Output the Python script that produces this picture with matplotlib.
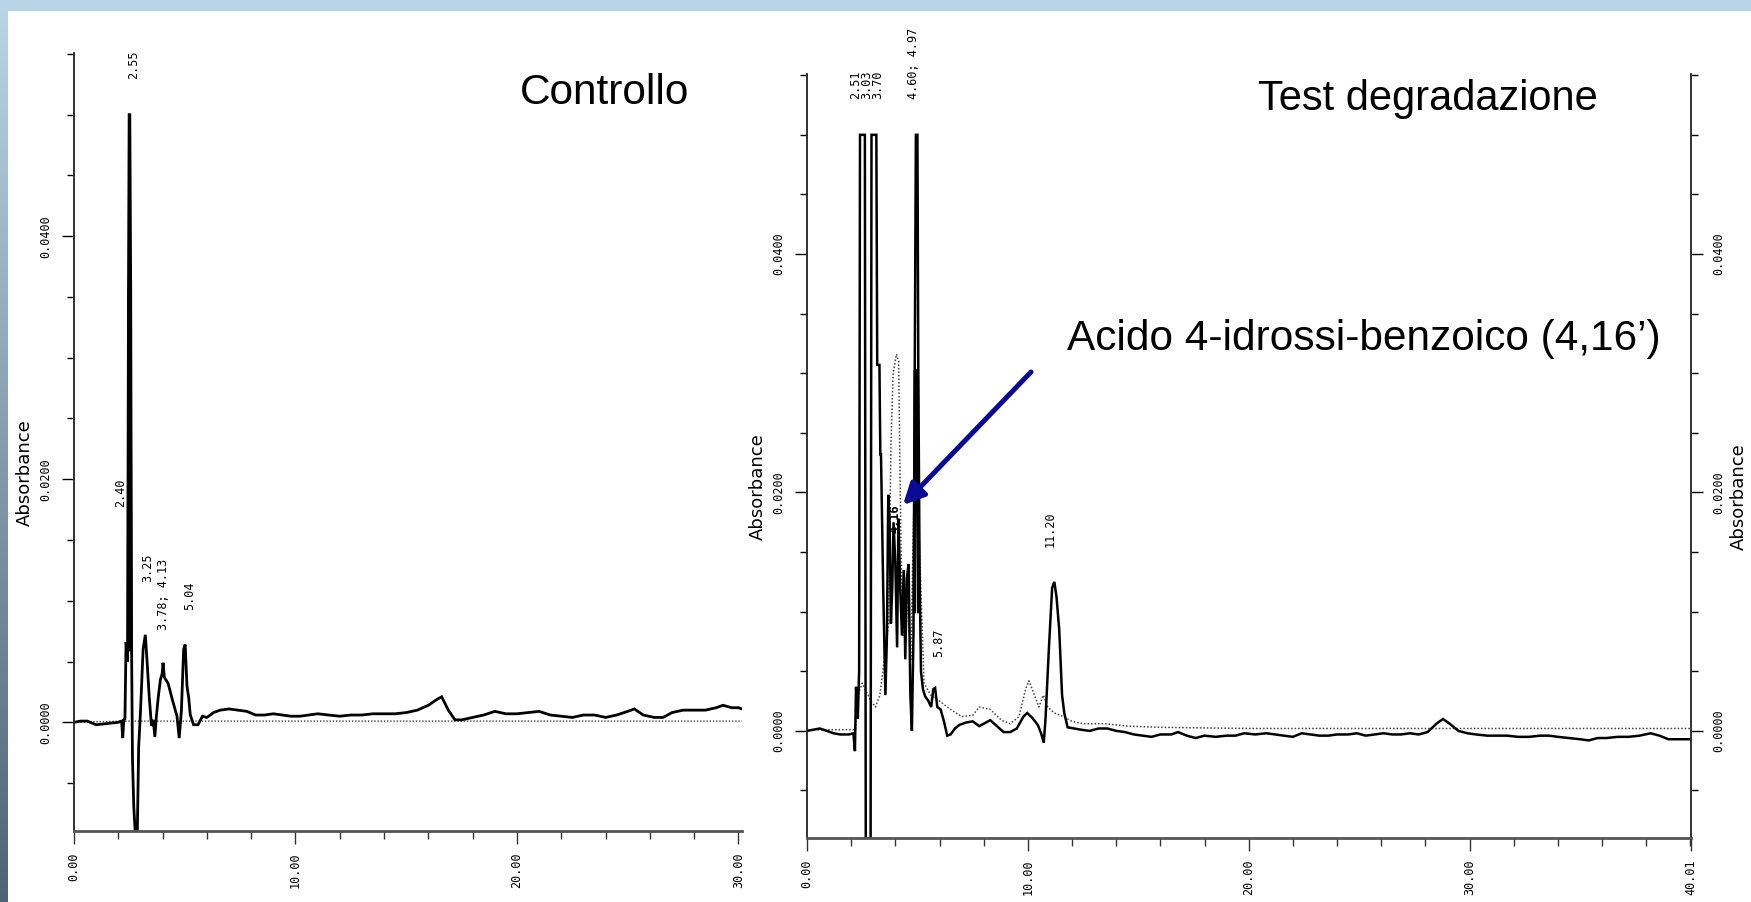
import numpy as np
import matplotlib
matplotlib.use('Agg')
import matplotlib.pyplot as plt
from matplotlib.patches import Rectangle, FancyArrowPatch

# ---------------- data ----------------
# Left panel: "Controllo" – solid trace (time min, absorbance)
ctrl_t = [0.0, 0.3, 0.6, 1.0, 1.5, 2.0, 2.15, 2.2, 2.25, 2.30, 2.35, 2.42, 2.46, 2.49, 2.52, 2.56,
          2.60, 2.64, 2.70, 2.76, 2.86, 2.92, 3.00, 3.12, 3.22, 3.30, 3.40, 3.50, 3.58, 3.65, 3.72,
          3.80, 3.90, 3.98, 4.02, 4.08, 4.25, 4.45, 4.65, 4.75, 4.85, 4.95, 5.02, 5.10, 5.18, 5.25,
          5.40, 5.60, 5.80, 6.0, 6.3, 6.6, 7.0, 7.4, 7.8, 8.2, 8.6, 9.0, 9.4, 9.8, 10.2, 10.6, 11.0,
          11.5, 12.0, 12.5, 13.0, 13.5, 14.0, 14.5, 15.0, 15.5, 16.0, 16.4, 16.6, 16.9, 17.2, 17.5,
          18.0, 18.5, 19.0, 19.5, 20.0, 20.5, 21.0, 21.5, 22.0, 22.5, 23.0, 23.5, 24.0, 24.5, 25.0,
          25.3, 25.7, 26.2, 26.6, 27.0, 27.5, 28.0, 28.5, 29.0, 29.3, 29.7, 30.0, 30.16]
ctrl_v = [0.0000, 0.0001, 0.0001, -0.0002, -0.0001, 0.0000, 0.0001, -0.0013, 0.0002, 0.0003, 0.0066,
          0.0050, 0.0357, 0.0500, 0.0500, 0.0357, 0.0060, -0.0030, -0.0070, -0.0089, -0.0089, -0.0020,
          0.0008, 0.0060, 0.0072, 0.0050, 0.0020, -0.0003, 0.0002, -0.0012, 0.0005, 0.0020, 0.0035,
          0.0040, 0.0049, 0.0037, 0.0032, 0.0018, 0.0005, -0.0013, 0.0010, 0.0060, 0.0064, 0.0030,
          0.0020, 0.0006, -0.0002, -0.0002, 0.0005, 0.0004, 0.0008, 0.0010, 0.0011, 0.0010, 0.0009,
          0.0006, 0.0006, 0.0007, 0.0006, 0.0005, 0.0005, 0.0006, 0.0007, 0.0006, 0.0005, 0.0006,
          0.0006, 0.0007, 0.0007, 0.0007, 0.0008, 0.0010, 0.0014, 0.0019, 0.0021, 0.0010, 0.0002,
          0.0002, 0.0004, 0.0006, 0.0009, 0.0007, 0.0007, 0.0008, 0.0009, 0.0006, 0.0005, 0.0004,
          0.0006, 0.0006, 0.0004, 0.0006, 0.0009, 0.0011, 0.0006, 0.0004, 0.0004, 0.0008, 0.0010,
          0.0010, 0.0010, 0.0012, 0.0014, 0.0012, 0.0012, 0.0011]
# thick lower part of the 2.55 peak
ctrl_core_t = [2.46, 2.49, 2.52, 2.56]
ctrl_core_v = [0.0060, 0.0357, 0.0357, 0.0060]
# Left panel dotted reference trace
ctrl_ref_t = [0.0, 2.2, 2.6, 30.16]
ctrl_ref_v = [0.0000, 0.0001, 0.0001, 0.0001]

# Right panel: "Test degradazione" – solid trace
test_t = [0.0, 0.3, 0.58, 0.9, 1.2, 1.5, 1.9, 2.1, 2.17, 2.22, 2.30, 2.36, 2.40, 2.62, 2.66, 2.88,
          2.92, 3.14, 3.18, 3.28, 3.32, 3.35, 3.45, 3.55, 3.62, 3.68, 3.74, 3.80, 3.86, 3.92, 4.00,
          4.08, 4.14, 4.22, 4.30, 4.38, 4.45, 4.52, 4.60, 4.68, 4.75, 4.82, 4.88, 4.93, 5.00, 5.04,
          5.10, 5.16, 5.25, 5.35, 5.50, 5.62, 5.72, 5.80, 5.90, 6.05, 6.20, 6.35, 6.50, 6.70, 6.90,
          7.20, 7.50, 7.80, 8.00, 8.30, 8.60, 8.90, 9.20, 9.50, 9.80, 9.97, 10.20, 10.45, 10.60,
          10.72, 10.80, 10.95, 11.10, 11.20, 11.30, 11.42, 11.55, 11.65, 11.80, 12.1, 12.4, 12.8,
          13.2, 13.6, 14.0, 14.4, 14.8, 15.2, 15.6, 16.0, 16.5, 16.8, 17.2, 17.6, 18.0, 18.5, 19.0,
          19.4, 19.8, 20.3, 20.8, 21.2, 21.6, 22.0, 22.4, 22.8, 23.2, 23.6, 24.0, 24.5, 24.9, 25.3,
          25.7, 26.1, 26.5, 26.9, 27.3, 27.7, 28.1, 28.5, 28.8, 29.1, 29.5, 29.9, 30.3, 30.8, 31.2,
          31.7, 32.2, 32.7, 33.2, 33.6, 34.0, 34.5, 35.0, 35.4, 35.8, 36.2, 36.7, 37.2, 37.7, 38.2,
          38.6, 39.0, 39.5, 40.01]
test_v = [0.0000, 0.0001, 0.0002, 0.0000, -0.0002, -0.0003, -0.0003, -0.0002, -0.0017, 0.0037,
          0.0010, 0.0050, 0.0500, 0.0500, -0.0090, -0.0090, 0.0500, 0.0500, 0.0307, 0.0307, 0.0232,
          0.0232, 0.0120, 0.0030, 0.0080, 0.0198, 0.0175, 0.0090, 0.0120, 0.0175, 0.0140, 0.0070,
          0.0178, 0.0120, 0.0080, 0.0135, 0.0060, 0.0128, 0.0140, 0.0030, 0.0000, 0.0080, 0.0300,
          0.0500, 0.0500, 0.0300, 0.0130, 0.0050, 0.0035, 0.0029, 0.0025, 0.0020, 0.0035, 0.0036,
          0.0020, 0.0018, 0.0008, -0.0004, -0.0003, 0.0002, 0.0005, 0.0007, 0.0008, 0.0004, 0.0006,
          0.0009, 0.0004, -0.0001, -0.0001, 0.0002, 0.0012, 0.0015, 0.0011, 0.0005, -0.0002, -0.0010,
          0.0010, 0.0068, 0.0120, 0.0125, 0.0112, 0.0085, 0.0030, 0.0015, 0.0003, 0.0002, 0.0001,
          0.0000, 0.0002, 0.0002, 0.0000, -0.0001, -0.0003, -0.0004, -0.0005, -0.0003, -0.0003,
          -0.0001, -0.0004, -0.0006, -0.0004, -0.0005, -0.0004, -0.0004, -0.0002, -0.0003, -0.0002,
          -0.0003, -0.0004, -0.0005, -0.0002, -0.0003, -0.0004, -0.0004, -0.0003, -0.0003, -0.0002,
          -0.0004, -0.0003, -0.0002, -0.0003, -0.0003, -0.0002, -0.0003, -0.0001, 0.0006, 0.0010,
          0.0006, 0.0000, -0.0002, -0.0003, -0.0004, -0.0004, -0.0004, -0.0005, -0.0005, -0.0004,
          -0.0004, -0.0005, -0.0006, -0.0007, -0.0008, -0.0006, -0.0006, -0.0005, -0.0005, -0.0004,
          -0.0002, -0.0004, -0.0007, -0.0007, -0.0007]
# thick lower part of the 4.97 peak
test_core_t = [4.86, 4.90, 5.00, 5.05]
test_core_v = [0.0100, 0.0302, 0.0302, 0.0100]
# Right panel dotted (superimposed) trace
test_ref_t = [0.0, 2.2, 2.3, 2.5, 2.9, 3.1, 3.3, 3.5, 3.7, 3.8, 3.9, 4.05, 4.15, 4.25, 4.35, 4.5,
              4.7, 4.85, 4.97, 5.1, 5.3, 5.6, 6.0, 6.5, 7.0, 7.5, 7.8, 8.3, 8.8, 9.2, 9.6, 9.9,
              10.05, 10.3, 10.5, 10.7, 10.9, 11.2, 11.6, 12.0, 12.5, 13.5, 14.5, 16.0, 20.0, 40.01]
test_ref_v = [0.0001, 0.0001, 0.0030, 0.0040, 0.0025, 0.0020, 0.0030, 0.0060, 0.0090, 0.0240,
              0.0300, 0.0316, 0.0310, 0.0160, 0.0080, 0.0120, 0.0060, 0.0200, 0.0280, 0.0150,
              0.0040, 0.0030, 0.0025, 0.0018, 0.0012, 0.0013, 0.0020, 0.0018, 0.0009, 0.0006,
              0.0012, 0.0035, 0.0042, 0.0030, 0.0020, 0.0030, 0.0020, 0.0015, 0.0012, 0.0008,
              0.0006, 0.0006, 0.0004, 0.0003, 0.0002, 0.0002]

ctrl_peaks = [("2.55", 2.71, 0.0529), ("2.40", 2.12, 0.0177), ("3.25", 3.34, 0.01155),
              ("3.78; 4.13", 4.02, 0.0076), ("5.04", 5.24, 0.00925)]
test_peaks = [("2.51", 2.22, 0.0530), ("3.03", 2.72, 0.0530), ("3.70", 3.22, 0.0530),
              ("4.60; 4.97", 4.80, 0.0530), ("5.87", 5.94, 0.0062), ("11.20", 11.0, 0.0154)]

y_major = [0.0, 0.02, 0.04]
y_minor = [-0.005, 0.005, 0.01, 0.015, 0.025, 0.03, 0.035, 0.045, 0.05, 0.055]
ctrl_xmajor = [0, 10, 20, 30]
test_xmajor = [0, 10, 20, 30, 40.01]
ctrl_xlabels = ["0.00", "10.00", "20.00", "30.00"]
test_xlabels = ["0.00", "10.00", "20.00", "30.00", "40.01"]

# ---------------- figure ----------------
W, H = 1751, 902
fig = plt.figure(figsize=(W / 100, H / 100), dpi=100)
fig.patch.set_facecolor('white')


def rect(x0, y0, x1, y1):
    return [x0 / W, 1 - y1 / H, (x1 - x0) / W, (y1 - y0) / H]


# slide decoration: top band and left gradient band
fig.patches.append(Rectangle((0, 1 - 10 / H), 1, 10 / H, transform=fig.transFigure,
                             color='#B8D4E6', zorder=0))
axg = fig.add_axes(rect(0, 10, 7, H))
top_c = np.array([0xB8, 0xD4, 0xE6]) / 255
bot_c = np.array([0x50, 0x63, 0x74]) / 255
f = np.linspace(0, 1, 256)[:, None]
grad = (top_c[None, :] * (1 - f) + bot_c[None, :] * f)[:, None, :]
axg.imshow(grad, aspect='auto', extent=[0, 1, 0, 1])
axg.axis('off')

mono = 'DejaVu Sans Mono'
px = 72 / 100  # points per pixel


def style_axes(ax, xmaj, xlabels, xmax, right=False):
    ax.set_facecolor('none')
    ax.spines['top'].set_visible(False)
    ax.spines['right'].set_visible(right)
    for s in ['left', 'bottom', 'right']:
        ax.spines[s].set_linewidth(1.3)
        ax.spines[s].set_color('#222222')
    ax.spines['bottom'].set_color('#555555')
    ax.spines['bottom'].set_linewidth(2.0)
    ax.set_xticks(xmaj)
    ax.set_xticklabels(xlabels)
    ax.set_xticks(np.arange(2, xmax, 2).tolist(), minor=True)
    ax.set_yticks(y_major)
    ax.set_yticklabels(["%.4f" % v for v in y_major])
    ax.set_yticks(y_minor, minor=True)
    ax.tick_params(axis='x', which='major', direction='out', length=13 * px, width=1.0,
                   labelrotation=90, pad=9 * px, labelsize=8.5, color='#333333')
    ax.tick_params(axis='x', which='minor', direction='out', length=8 * px, width=1.0,
                   color='#333333')
    ax.tick_params(axis='y', which='major', direction='out', length=12 * px, width=1.0,
                   labelrotation=90, pad=10 * px, labelsize=8.5, right=right, labelright=right)
    ax.tick_params(axis='y', which='minor', direction='out', length=7 * px, width=1.0,
                   right=right)
    for lab in ax.get_xticklabels() + ax.get_yticklabels():
        lab.set_fontfamily(mono)
    for lab in ax.get_yticklabels():
        lab.set_va('center')


# Left panel
ax1 = fig.add_axes(rect(74, 52.7, 742, 830.7))
ax1.set_xlim(0, 30.16)
ax1.set_ylim(-0.00892, 0.0551)
ax1.plot(ctrl_ref_t, ctrl_ref_v, color='#444444', lw=1.0, linestyle=(0, (1, 1.3)))
ax1.plot(ctrl_t, ctrl_v, color='black', lw=2.0, solid_joinstyle='miter')
ax1.plot(ctrl_core_t, ctrl_core_v, color='black', lw=2.6)
style_axes(ax1, ctrl_xmajor, ctrl_xlabels, 30.16)
for lab, t, v in ctrl_peaks:
    ax1.text(t, v, lab, rotation=90, ha='center', va='bottom', fontsize=8.5, fontfamily=mono)

# Right panel
ax2 = fig.add_axes(rect(807, 74, 1690.6, 837.7))
ax2.set_xlim(0, 40.01)
ax2.set_ylim(-0.00896, 0.0551)
ax2.plot(test_ref_t, test_ref_v, color='#444444', lw=1.1, linestyle=(0, (1, 1.3)))
ax2.plot(test_t, test_v, color='black', lw=1.8, solid_joinstyle='miter')
ax2.plot(test_core_t, test_core_v, color='black', lw=2.4)
style_axes(ax2, test_xmajor, test_xlabels, 40.01, right=True)
for lab, t, v in test_peaks:
    ax2.text(t, v, lab, rotation=90, ha='center', va='bottom', fontsize=8.5, fontfamily=mono)
ax2.text(3.99, 0.01662, "4.16", rotation=90, ha='center', va='bottom', fontsize=8.5,
         fontfamily=mono, fontweight='bold')

# axis titles
for x, y in [(25, 473), (758, 487), (1739, 497)]:
    fig.text(x / W, 1 - y / H, "Absorbance", rotation=90, ha='center', va='center',
             fontsize=13, fontfamily='DejaVu Sans')

# slide texts
sans = 'Liberation Sans'
fig.text(520 / W, 1 - 104 / H, "Controllo", fontsize=30.5, fontfamily=sans,
         ha='left', va='baseline')
fig.text(1258 / W, 1 - 110 / H, "Test degradazione", fontsize=30, fontfamily=sans,
         ha='left', va='baseline')
fig.text(1067 / W, 1 - 350 / H, "Acido 4-idrossi-benzoico (4,16\u2019)", fontsize=30.5,
         fontfamily=sans, ha='left', va='baseline')

# arrow
fig.add_artist(FancyArrowPatch(
    (1031, H - 372), (903, H - 505), transform=None,
    arrowstyle='-|>', mutation_scale=32, color='#0A0A96', lw=3.6,
    shrinkA=0, shrinkB=0))

fig.savefig('out.png', dpi=100, facecolor='white')
